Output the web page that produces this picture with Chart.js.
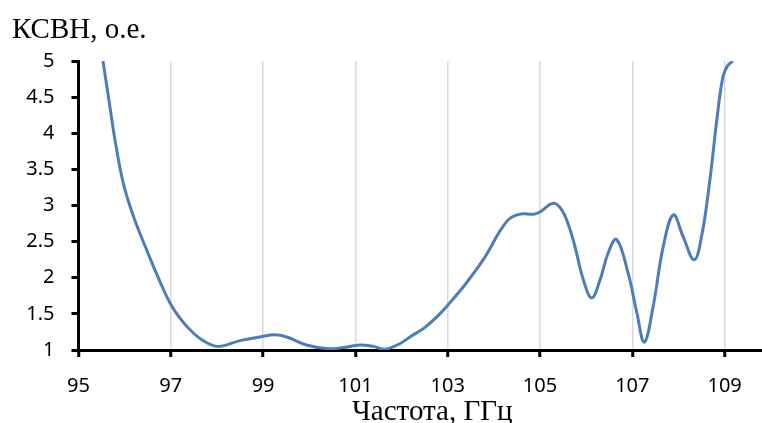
<!DOCTYPE html>
<html>
<head>
<meta charset="utf-8">
<script src="https://cdn.jsdelivr.net/npm/chart.js@4"></script>
<style>
html,body{margin:0;padding:0;background:#fff;overflow:hidden;width:762px;height:423px;}
#wrap{width:786px;height:423px;position:relative;}
</style>
</head>
<body>
<div id="wrap"><canvas id="c"></canvas></div>
<script>
const freq = [95.53,95.68,95.79,95.97,96.19,96.48,96.77,97.0,97.2,97.4,97.7,98.03,98.5,98.93,99.26,99.51,99.94,100.38,100.7,101.1,101.39,101.64,101.97,102.18,102.5,102.83,103.0,103.37,103.77,104.28,104.57,104.86,105.0,105.29,105.47,105.6,105.75,105.94,106.12,106.3,106.48,106.66,106.91,107.1,107.26,107.45,107.67,107.89,108.1,108.34,108.5,108.68,108.83,108.96,109.06,109.18];
const vswr = [5.0,4.37,3.91,3.31,2.85,2.38,1.94,1.63,1.44,1.29,1.13,1.05,1.13,1.18,1.21,1.18,1.07,1.02,1.03,1.07,1.05,1.01,1.09,1.18,1.31,1.5,1.62,1.9,2.25,2.78,2.88,2.88,2.91,3.03,2.94,2.76,2.45,1.97,1.72,1.97,2.35,2.53,2.06,1.51,1.11,1.6,2.43,2.87,2.57,2.25,2.57,3.35,4.18,4.77,4.93,5.0];
const xTicks = [95,97,99,101,103,105,107,109];
const yTicks = [1,1.5,2,2.5,3,3.5,4,4.5,5];
const yTickLabels = ['1','1.5','2','2.5','3','3.5','4','4.5','5'];
const yTitle = 'КСВН, о.е.';
const xTitle = 'Частота, ГГц';

const points = freq.map((f,i)=>({x:f,y:vswr[i]}));

new Chart(document.getElementById('c'), {
  type: 'scatter',
  data: { datasets: [{
    data: points,
    showLine: true,
    borderColor: '#4a7ebb',
    borderWidth: 3,
    pointRadius: 0,
    tension: 0.4,
    fill: false
  }]},
  options: {
    responsive: true,
    maintainAspectRatio: false,
    animation: false,
    layout: { padding: { left: 12, right: 0, top: 0, bottom: 0 } },
    plugins: {
      legend: { display: false },
      tooltip: { enabled: false },
      title: {
        display: true,
        text: yTitle,
        align: 'start',
        color: '#000',
        font: { family: 'Liberation Serif', size: 29, weight: 'normal' },
        padding: { top: 13, bottom: 13.2 }
      }
    },
    scales: {
      x: {
        type: 'linear',
        min: 95,
        max: 110.33,
        afterBuildTicks: a => { a.ticks = xTicks.map(v=>({value:v})); },
        afterFit: s => { s.height = 73; },
        ticks: { color:'#000', font:{family:'Noto Sans', size:20}, padding: 17, maxRotation:0, autoSkip:false },
        grid: { color:'#d9d9d9', lineWidth:1.5, tickColor:'#000', tickWidth:3, tickLength:7, drawOnChartArea:true },
        border: { color:'#000', width:3 },
        title: { display:true, text: xTitle, color:'#000', font:{family:'Liberation Serif', size:29, lineHeight:1}, padding:{top:0,bottom:-4} }
      },
      y: {
        type: 'linear',
        min: 1,
        max: 5,
        afterBuildTicks: a => { a.ticks = yTicks.map(v=>({value:v})); },
        afterFit: s => { s.width = 66.5; },
        ticks: { color:'#000', font:{family:'Noto Sans', size:20}, padding: 17, autoSkip:false,
          callback: (v) => { const i = yTicks.indexOf(v); return i >= 0 ? yTickLabels[i] : ''; } },
        grid: { drawOnChartArea:false, tickColor:'#000', tickWidth:3, tickLength:7, color:'#000' },
        border: { color:'#000', width:3 }
      }
    }
  }
});
</script>
</body>
</html>
